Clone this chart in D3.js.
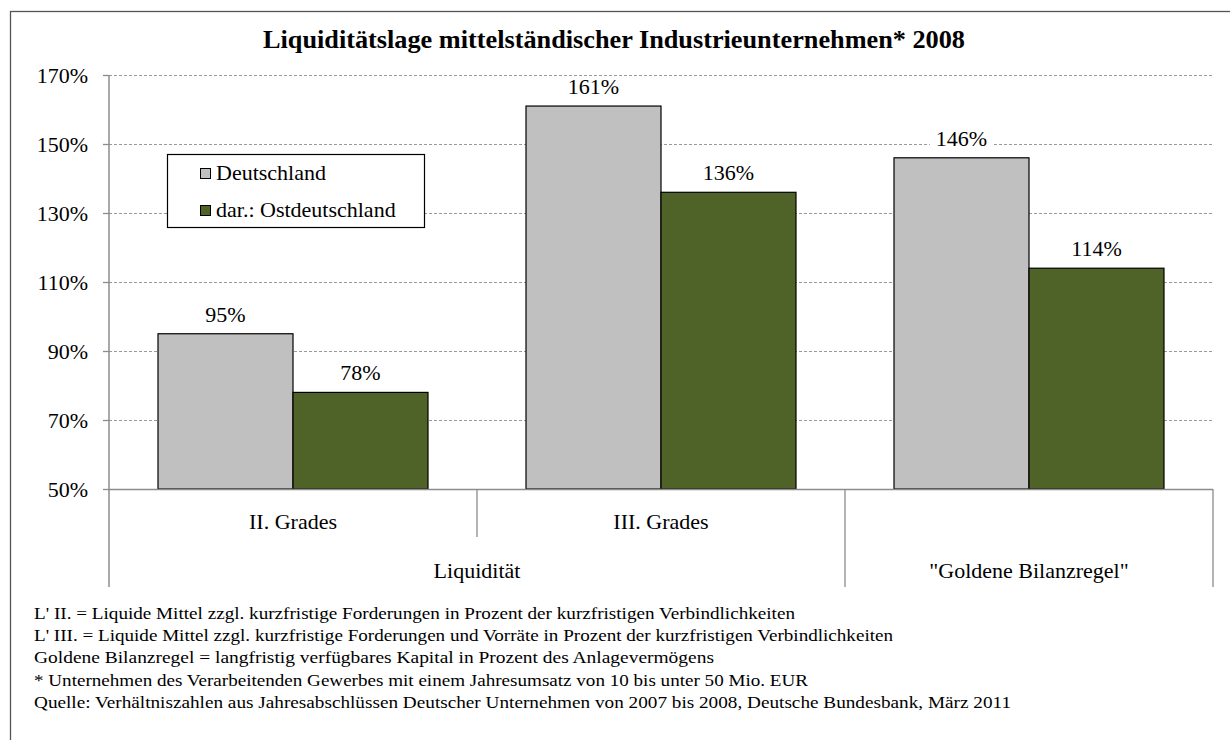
<!DOCTYPE html>
<html>
<head>
<meta charset="utf-8">
<script src="https://cdn.jsdelivr.net/npm/d3@7"></script>
<style>
  html, body { margin: 0; padding: 0; background: #fff; }
  svg { display: block; }
</style>
</head>
<body>
<svg id="chart" width="1230" height="740"></svg>
<script>
// ---- data ----
const categories = ["II. Grades", "III. Grades", ""];
const groupLabels = ["Liquidität", "\"Goldene Bilanzregel\""];
const groupSpans = [2, 1];
const seriesNames = ["Deutschland", "dar.: Ostdeutschland"];
const deutschland = [95, 161, 146];
const ostdeutschland = [78, 136, 114];
const yTicks = [50, 70, 90, 110, 130, 150, 170];
const title = "Liquiditätslage mittelständischer Industrieunternehmen* 2008";
const footnotes = [
  "L' II. = Liquide Mittel zzgl. kurzfristige Forderungen in Prozent der kurzfristigen Verbindlichkeiten",
  "L' III. = Liquide Mittel zzgl. kurzfristige Forderungen und Vorräte in Prozent der kurzfristigen Verbindlichkeiten",
  "Goldene Bilanzregel = langfristig verfügbares Kapital in Prozent des Anlagevermögens",
  "* Unternehmen des Verarbeitenden Gewerbes mit einem Jahresumsatz von 10 bis unter 50 Mio. EUR",
  "Quelle: Verhältniszahlen aus Jahresabschlüssen Deutscher Unternehmen von 2007 bis 2008, Deutsche Bundesbank, März 2011"
];

// ---- layout ----
const FONT = "'Liberation Serif', 'Times New Roman', serif";
const colors = ["#C0C0C0", "#4F6228"];
const plot = { left: 109, right: 1213, top: 75, bottom: 489 };
const footLengths = [761, 859, 680, 774, 977];

const svg = d3.select("#chart");

// outer frame
svg.append("rect").attr("x", 10.5).attr("y", 11.5).attr("width", 1240).attr("height", 760)
  .attr("fill", "#fff").attr("stroke", "#555").attr("stroke-width", 1.3);

const y = d3.scaleLinear().domain([50, 170]).range([plot.bottom, plot.top]);
const x0 = d3.scaleBand().domain(d3.range(categories.length)).range([plot.left, plot.right]).paddingInner(0).paddingOuter(0);
const x1 = d3.scaleBand().domain(d3.range(seriesNames.length)).range([0, x0.bandwidth()]).paddingInner(0).paddingOuter(0.363);

// gridlines
svg.append("g").selectAll("line").data(yTicks.filter(t => t > 50)).join("line")
  .attr("x1", plot.left).attr("x2", plot.right)
  .attr("y1", d => Math.round(y(d)) + 0.5).attr("y2", d => Math.round(y(d)) + 0.5)
  .attr("stroke", "#9a9a9a").attr("stroke-width", 1).attr("stroke-dasharray", "3,2");

// y axis
const yAxis = svg.append("g").attr("transform", `translate(${plot.left},0)`)
  .call(d3.axisLeft(y).tickValues(yTicks).tickSize(6).tickPadding(15).tickFormat(d => d + "%"));
yAxis.attr("font-family", null).attr("font-size", null);
yAxis.select(".domain").remove();
yAxis.selectAll(".tick line").attr("stroke", "#8c8c8c").attr("stroke-width", 1.3);
yAxis.selectAll(".tick text").attr("fill", "#000").attr("dy", "0.34em");

// y axis line extended down through category area
svg.append("line").attr("x1", plot.left).attr("x2", plot.left).attr("y1", plot.top).attr("y2", 587)
  .attr("stroke", "#8c8c8c").attr("stroke-width", 1.5);

// bars
const series = [deutschland, ostdeutschland];
const barsG = svg.append("g");
series.forEach((vals, s) => {
  barsG.selectAll(null).data(vals).join("rect")
    .attr("x", (d, i) => x0(i) + x1(s))
    .attr("y", d => y(d))
    .attr("width", x1.bandwidth())
    .attr("height", d => plot.bottom - y(d))
    .attr("fill", colors[s]).attr("stroke", "#000").attr("stroke-width", 1.2);
});

// x axis line
svg.append("line").attr("x1", plot.left).attr("x2", plot.right).attr("y1", plot.bottom + 0.5).attr("y2", plot.bottom + 0.5)
  .attr("stroke", "#8c8c8c").attr("stroke-width", 1.5);

// category separators
let cum = 0;
const groupBounds = groupSpans.map(n => { const s = cum; cum += n; return [s, cum]; });
const majorIdx = new Set(groupBounds.map(b => b[1]));
d3.range(1, categories.length + 1).forEach(i => {
  const xx = i < categories.length ? x0(i) : plot.right;
  svg.append("line").attr("x1", xx).attr("x2", xx).attr("y1", plot.bottom)
    .attr("y2", majorIdx.has(i) ? 587 : 537)
    .attr("stroke", "#8c8c8c").attr("stroke-width", 1.3);
});

// category labels
svg.append("g").selectAll("text").data(categories).join("text")
  .attr("x", (d, i) => x0(i) + x0.bandwidth() / 2).attr("y", 529)
  .attr("text-anchor", "middle").text(d => d);

// group labels
svg.append("g").selectAll("text").data(groupLabels).join("text")
  .attr("x", (d, i) => {
    const b = groupBounds[i];
    const xe = b[1] < categories.length ? x0(b[1]) : plot.right;
    return (x0(b[0]) + xe) / 2;
  })
  .attr("y", 578).attr("text-anchor", "middle").text(d => d);

// legend
const lg = svg.append("g");
lg.append("rect").attr("x", 167.5).attr("y", 154.5).attr("width", 257).attr("height", 73)
  .attr("fill", "#fff").attr("stroke", "#000").attr("stroke-width", 1.2);
seriesNames.forEach((name, s) => {
  const yy = 180 + s * 37;
  lg.append("rect").attr("x", 200.5).attr("y", yy - 11.5).attr("width", 10).attr("height", 10)
    .attr("fill", colors[s]).attr("stroke", "#000").attr("stroke-width", 1);
  lg.append("text").attr("x", 216).attr("y", yy).text(name);
});

// title
svg.append("text").attr("class", "title").attr("x", 263).attr("y", 48).attr("font-weight", "bold")
  .attr("textLength", 702).attr("lengthAdjust", "spacingAndGlyphs").text(title);

// footnotes
svg.append("g").selectAll("text").data(footnotes).join("text")
  .attr("class", "foot")
  .attr("x", 34).attr("y", (d, i) => 619 + i * 22.2)
  .attr("textLength", (d, i) => footLengths[i]).attr("lengthAdjust", "spacingAndGlyphs")
  .text(d => d);

// data labels with white background
const labelsG = svg.append("g");
const labelTexts = [];
series.forEach((vals, s) => {
  vals.forEach((v, i) => {
    const cx = x0(i) + x1(s) + x1.bandwidth() / 2;
    const by = y(v) - 12;
    const t = labelsG.append("text").attr("x", cx).attr("y", by)
      .attr("text-anchor", "middle").text(v + "%");
    labelTexts.push(t);
  });
});

// font styling for all text
svg.selectAll("text").style("font-family", FONT).style("font-size", "22px").style("fill", "#000");
svg.select("text.title").style("font-size", "25px").style("font-weight", "bold");
svg.selectAll("text.foot").style("font-size", "17.5px");

// white backgrounds behind data labels (after font set)
labelTexts.forEach(t => {
  const bb = t.node().getBBox();
  labelsG.insert("rect", () => t.node())
    .attr("x", bb.x - 6).attr("y", bb.y + 2).attr("width", bb.width + 12).attr("height", bb.height - 4)
    .attr("fill", "#fff");
});
</script>
</body>
</html>
